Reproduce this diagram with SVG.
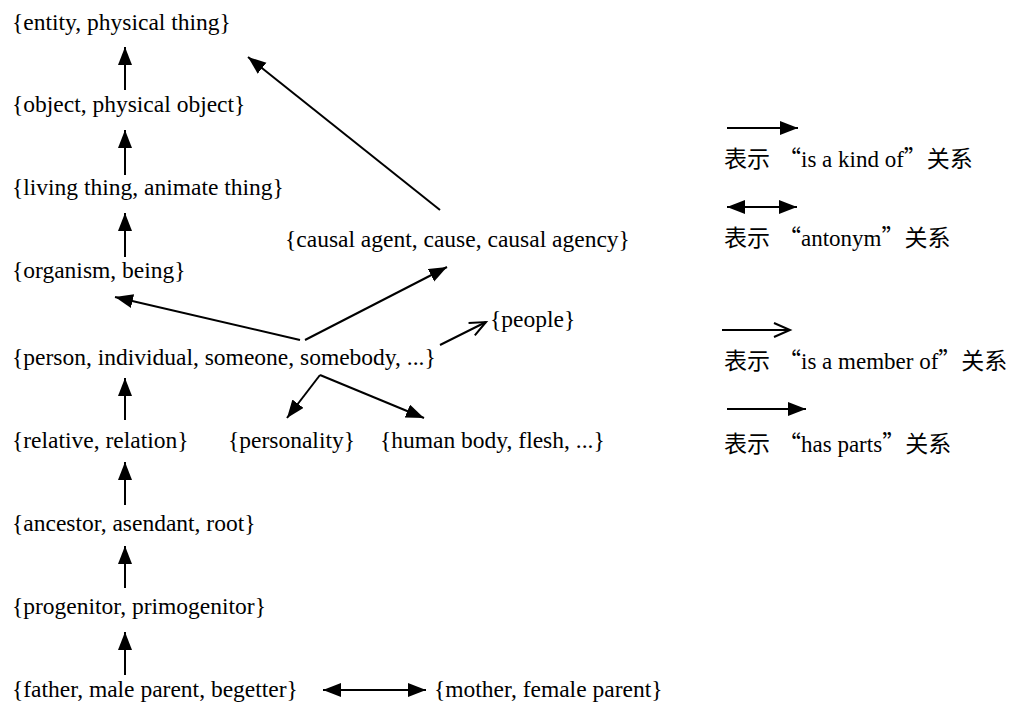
<svg xmlns="http://www.w3.org/2000/svg" width="1013" height="704" viewBox="0 0 1013 704">
<style>
.t{font-family:'Liberation Serif',serif;font-size:23.5px}
.cj{font-family:'Liberation Serif','Noto Sans CJK SC',serif;font-size:23px}
.q{font-family:'Noto Sans CJK SC',sans-serif}
.c line{stroke:#000;stroke-width:2}
</style>
<defs>
<marker id="ah" markerUnits="userSpaceOnUse" markerWidth="20" markerHeight="16" refX="18" refY="7" orient="auto-start-reverse" viewBox="0 0 20 16">
<path d="M0,0 L18,7 L0,14 z" fill="#000"/>
</marker>
<marker id="oh" markerUnits="userSpaceOnUse" markerWidth="20" markerHeight="18" refX="17" refY="8" orient="auto" viewBox="0 0 20 18">
<path d="M1,1 L17,8 L1,15" fill="none" stroke="#000" stroke-width="2"/>
</marker>
</defs>
<rect width="1013" height="704" fill="#fff"/>
<g id="n-entity"><text class="t" x="12" y="30">{entity, physical thing}</text></g>
<g id="n-object"><text class="t" x="12" y="112">{object, physical object}</text></g>
<g id="n-living"><text class="t" x="12" y="195">{living thing, animate thing}</text></g>
<g id="n-organism"><text class="t" x="12" y="278">{organism, being}</text></g>
<g id="n-person"><text class="t" x="12" y="365">{person, individual, someone, somebody, ...}</text></g>
<g id="n-relative"><text class="t" x="12" y="448">{relative, relation}</text></g>
<g id="n-ancestor"><text class="t" x="12" y="531">{ancestor, asendant, root}</text></g>
<g id="n-progenitor"><text class="t" x="12" y="614">{progenitor, primogenitor}</text></g>
<g id="n-father"><text class="t" x="12" y="697">{father, male parent, begetter}</text></g>
<g id="n-mother"><text class="t" x="434" y="697">{mother, female parent}</text></g>
<g id="n-causal"><text class="t" x="285" y="247">{causal agent, cause, causal agency}</text></g>
<g id="n-people"><text class="t" x="490" y="327">{people}</text></g>
<g id="n-personality"><text class="t" x="228" y="448">{personality}</text></g>
<g id="n-humanbody"><text class="t" x="380" y="448">{human body, flesh, ...}</text></g>
<g id="legend">
<text class="cj" x="724" y="167">表示<tspan class="q" dx="8">“</tspan>is a kind of<tspan class="q">”</tspan>关系</text>
<text class="cj" x="724" y="246">表示<tspan class="q" dx="8">“</tspan>antonym<tspan class="q">”</tspan>关系</text>
<text class="cj" x="724" y="369">表示<tspan class="q" dx="8">“</tspan>is a member of<tspan class="q">”</tspan>关系</text>
<text class="cj" x="724" y="452">表示<tspan class="q" dx="8">“</tspan>has parts<tspan class="q">”</tspan>关系</text>
</g>
<g id="connectors" class="c">
<line x1="125" y1="90" x2="125" y2="47" marker-end="url(#ah)"/>
<line x1="125" y1="175" x2="125" y2="130" marker-end="url(#ah)"/>
<line x1="125" y1="257" x2="125" y2="213" marker-end="url(#ah)"/>
<line x1="125" y1="420" x2="125" y2="378" marker-end="url(#ah)"/>
<line x1="125" y1="505" x2="125" y2="462" marker-end="url(#ah)"/>
<line x1="125" y1="588" x2="125" y2="546" marker-end="url(#ah)"/>
<line x1="125" y1="675" x2="125" y2="632" marker-end="url(#ah)"/>
<line x1="440" y1="210" x2="248" y2="57" marker-end="url(#ah)"/>
<line x1="305" y1="340" x2="447" y2="267" marker-end="url(#ah)"/>
<line x1="300" y1="340" x2="115" y2="297" marker-end="url(#ah)"/>
<line x1="440" y1="345" x2="486" y2="322" marker-end="url(#oh)"/>
<line x1="320" y1="375" x2="287" y2="418" marker-end="url(#ah)"/>
<line x1="320" y1="375" x2="424" y2="418" marker-end="url(#ah)"/>
<line x1="323" y1="690" x2="426" y2="690" marker-start="url(#ah)" marker-end="url(#ah)"/>
<line x1="727" y1="128" x2="798" y2="128" marker-end="url(#ah)"/>
<line x1="727" y1="207" x2="797" y2="207" marker-start="url(#ah)" marker-end="url(#ah)"/>
<line x1="722" y1="330" x2="790" y2="330" marker-end="url(#oh)"/>
<line x1="727" y1="409" x2="806" y2="409" marker-end="url(#ah)"/>
</g>
</svg>
